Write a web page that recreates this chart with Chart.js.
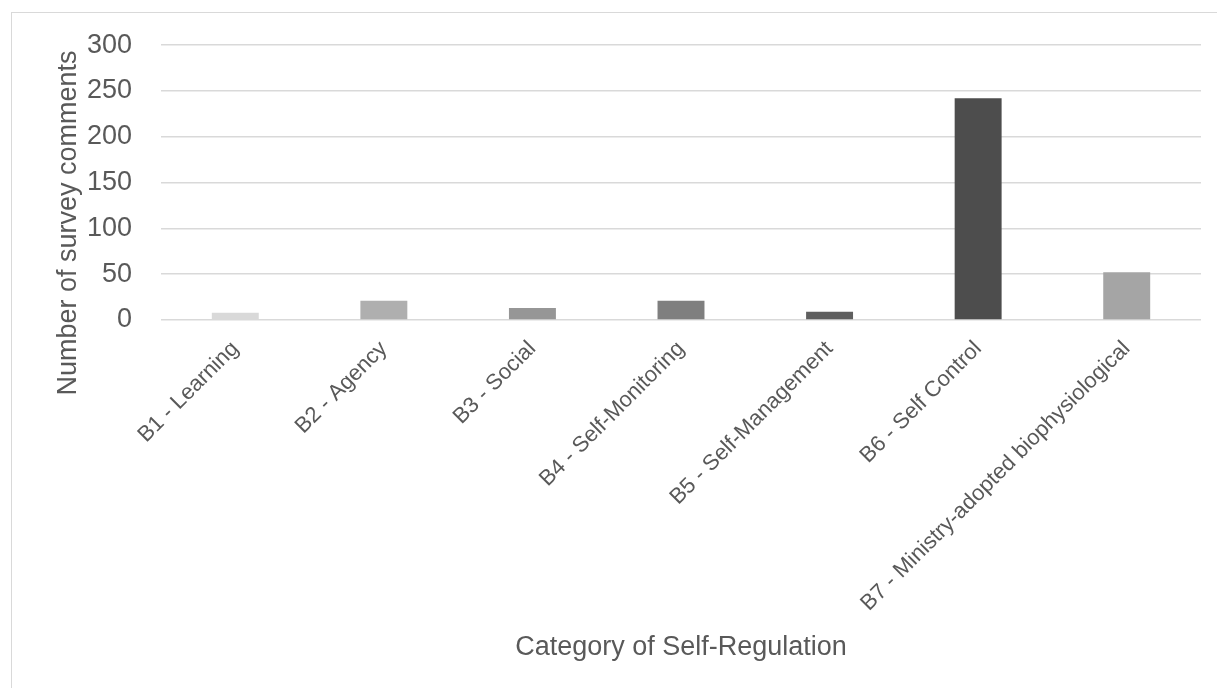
<!DOCTYPE html>
<html>
<head>
<meta charset="utf-8">
<script src="https://cdn.jsdelivr.net/npm/chart.js@4.4.1/dist/chart.umd.min.js"></script>
<style>
  html, body { margin: 0; padding: 0; background: #fff; overflow: hidden; }
  #wrap { position: relative; width: 1217px; height: 688px; }
  #frame {
    position: absolute; left: 11px; top: 12px;
    width: 1400px; height: 900px;
    border: 1px solid #d9d9d9;
  }
  canvas { position: absolute; left: 0; top: 0; }
</style>
</head>
<body>
<div id="wrap">
  <div id="frame"></div>
  <canvas id="chart" width="1217" height="688"></canvas>
</div>
<script>
// ================= DATA =================
const categories = [
  "B1 - Learning",
  "B2 - Agency",
  "B3 - Social",
  "B4 - Self-Monitoring",
  "B5 - Self-Management",
  "B6 - Self Control",
  "B7 - Ministry-adopted biophysiological"
];
const comments = [8, 21, 13, 21, 9, 242, 52];
const barColors = ["#d9d9d9", "#afafaf", "#969696", "#7f7f7f", "#5f5f5f", "#4d4d4d", "#a5a5a5"];
const yTicks = [0, 50, 100, 150, 200, 250, 300];
const yTitle = "Number of survey comments";
const xTitle = "Category of Self-Regulation";

const TEXT = "#595959";
const FONT = "'Liberation Sans', Arial, sans-serif";

// ================= UTIL =================
// y title sits lower than the plot centre, so it is drawn by hand
const yTitlePlugin = {
  id: "yTitle",
  afterDraw(chart) {
    const c = chart.ctx;
    c.save();
    c.translate(69, 223);
    c.rotate(-Math.PI / 2);
    c.font = "27px " + FONT;
    c.fillStyle = TEXT;
    c.textAlign = "center";
    c.textBaseline = "middle";
    c.fillText(yTitle, 0, 0);
    c.restore();
  }
};

// ================= GRAFIK =================
const ctx = document.getElementById("chart").getContext("2d");

new Chart(ctx, {
  type: "bar",
  data: {
    labels: categories,
    datasets: [{
      label: "Comments",
      data: comments,
      backgroundColor: barColors,
      borderWidth: 0,
      categoryPercentage: 1,
      barPercentage: 0.316
    }]
  },
  plugins: [yTitlePlugin],
  options: {
    responsive: false,
    animation: false,
    layout: {
      padding: { left: 53, right: 16, top: 30, bottom: 24 }
    },
    plugins: {
      legend: { display: false },
      tooltip: { enabled: false }
    },
    scales: {
      x: {
        // long rotated labels: give the axis its full height
        afterFit: axis => { axis.height = 344; },
        grid: { display: false },
        border: { display: false },
        ticks: {
          autoSkip: false,
          minRotation: 45,
          maxRotation: 45,
          padding: 8,
          color: TEXT,
          font: { family: FONT, size: 22 }
        },
        title: {
          display: true,
          text: xTitle,
          color: TEXT,
          font: { family: FONT, size: 27 },
          padding: { top: 10, bottom: 0 }
        }
      },
      y: {
        min: 0,
        max: 300,
        afterBuildTicks: axis => { axis.ticks = yTicks.map(v => ({ value: v })); },
        afterFit: axis => { axis.width = 108; },
        grid: {
          color: "#d9d9d9",
          lineWidth: 1.5,
          drawTicks: false
        },
        border: { display: false },
        ticks: {
          padding: 29,
          color: TEXT,
          font: { family: FONT, size: 27 }
        }
      }
    }
  }
});
</script>
</body>
</html>
